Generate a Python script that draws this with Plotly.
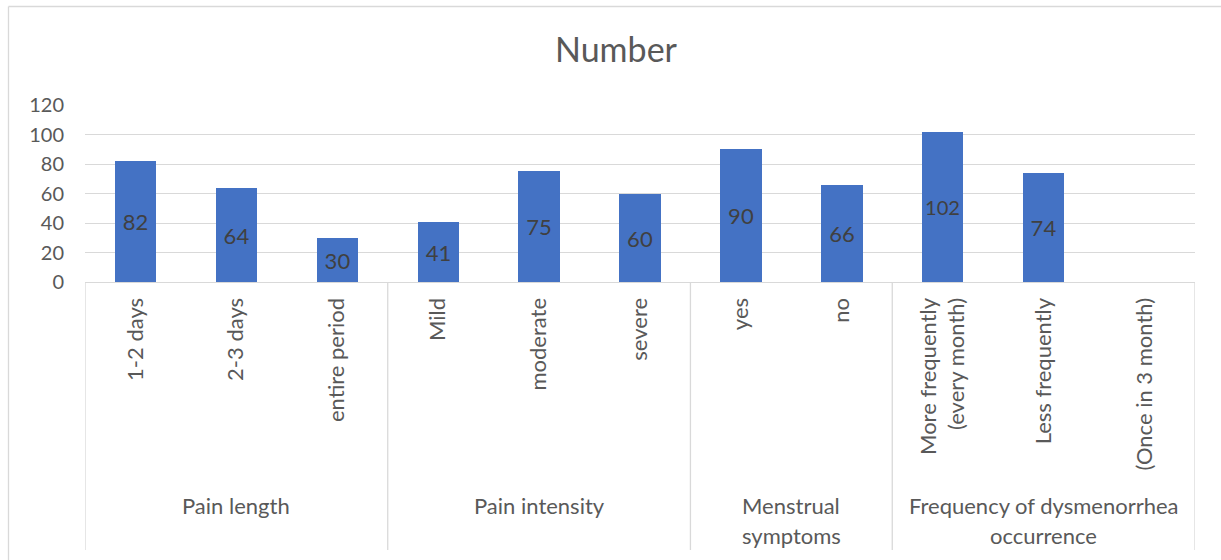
import plotly.graph_objects as go

categories = ["1-2 days", "2-3 days", "entire period",
              "Mild", "moderate", "severe",
              "yes", "no",
              "More frequently<br>(every month)", "Less frequently", "(Once in 3 month)"]
values = [82, 64, 30, 41, 75, 60, 90, 66, 102, 74, None]
groups = [["Pain length"], ["Pain intensity"], ["Menstrual", "symptoms"],
          ["Frequency of dysmenorrhea", "occurrence"]]
group_sizes = [3, 3, 2, 3]
y_ticks = [0, 20, 40, 60, 80, 100, 120]

FONT = "Lato"
GRAY = "#595959"
LINE = "#d9d9d9"

x_idx = list(range(len(categories)))
fig = go.Figure(go.Bar(
    x=x_idx, y=values, width=0.41,
    marker=dict(color="#4472C4", line=dict(width=0)),
    text=[str(v) if v is not None else "" for v in values],
    textposition="inside", insidetextanchor="middle",
    textangle=0,
    textfont=dict(family=FONT, size=22, color="#404040"),
))

# plot-area pixel geometry helpers
W, H = 1221, 560
ml, mr, mt, mb = 85, 26, 105, 278
pw, ph = W - ml - mr, H - mt - mb

def px_to_paper_x(px):
    return (px - ml) / pw

def px_to_paper_y(py):
    return (H - mb - py) / ph

shapes = []
# group dividers below the axis
bounds = [-0.5]
for s in group_sizes:
    bounds.append(bounds[-1] + s)
for b in bounds:
    shapes.append(dict(type="line", xref="x", yref="paper", x0=b, x1=b,
                       y0=0, y1=px_to_paper_y(550), line=dict(color=LINE, width=1.3)))
# chart outer border (left + top)
shapes.append(dict(type="line", xref="paper", yref="paper",
                   x0=px_to_paper_x(8.5), x1=px_to_paper_x(8.5),
                   y0=px_to_paper_y(6.5), y1=px_to_paper_y(570),
                   line=dict(color=LINE, width=1.3)))
shapes.append(dict(type="line", xref="paper", yref="paper",
                   x0=px_to_paper_x(8.5), x1=px_to_paper_x(1225),
                   y0=px_to_paper_y(6.5), y1=px_to_paper_y(6.5),
                   line=dict(color=LINE, width=1.3)))

annotations = []
for i, lines in enumerate(groups):
    mid = (bounds[i] + bounds[i + 1]) / 2
    for j, ln in enumerate(lines):
        annotations.append(dict(
            x=mid, xref="x", y=px_to_paper_y(505 + 30 * j), yref="paper",
            text=ln, showarrow=False, xanchor="center", yanchor="middle",
            font=dict(family=FONT, size=22, color=GRAY)))

fig.update_layout(
    width=W, height=H,
    margin=dict(l=ml, r=mr, t=mt, b=mb),
    paper_bgcolor="white", plot_bgcolor="white",
    showlegend=False,
    title=dict(text="Number", x=616 / W, xref="container", xanchor="center",
               y=1 - 50 / H, yref="container", yanchor="middle",
               font=dict(family=FONT, size=34, color=GRAY)),
    xaxis=dict(
        range=[-0.5, len(categories) - 0.5],
        tickmode="array", tickvals=x_idx, ticktext=categories,
        tickangle=-90, ticks="", ticklabelstandoff=6,
        tickfont=dict(family=FONT, size=22, color=GRAY),
        showline=True, linecolor=LINE, linewidth=1.3,
        showgrid=False, zeroline=False, fixedrange=True,
    ),
    yaxis=dict(
        range=[0, 120], tickmode="array", tickvals=y_ticks,
        tickfont=dict(family=FONT, size=20, color=GRAY),
        gridcolor=LINE, gridwidth=1.3, showline=False, zeroline=False,
        ticks="", ticklabelstandoff=20,
    ),
    shapes=shapes, annotations=annotations,
    bargap=0,
)

fig.write_html("out.html")
